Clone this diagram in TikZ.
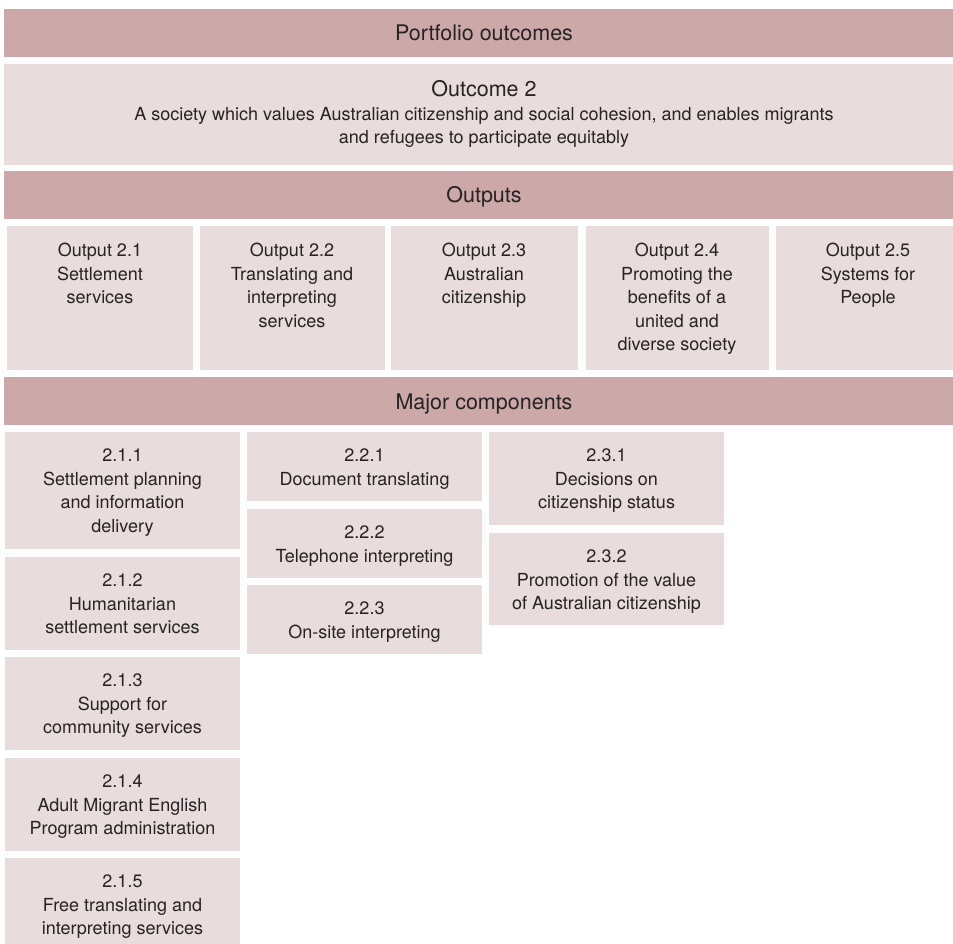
\documentclass[tikz,border=0pt]{standalone}
\usepackage{fontspec}
\setmainfont{TeX Gyre Heros}
\definecolor{darkc}{HTML}{CDA8A8}
\definecolor{lightc}{HTML}{E8DCDC}
\definecolor{txtc}{HTML}{262223}
\begin{document}
\begin{tikzpicture}[x=1pt,y=-1pt,
  hdrbar/.style={fill=darkc,draw=none,inner sep=0pt,anchor=north west,minimum width=949pt,minimum height=48pt},
  lbox/.style={fill=lightc,draw=none,inner sep=0pt,anchor=north west},
  hdrtxt/.style={text=txtc,inner sep=0pt,anchor=base,font=\fontsize{21.5}{25}\selectfont},
  bodytxt/.style={text=txtc,inner sep=0pt,anchor=north,align=center,font=\fontsize{18}{23.5}\selectfont}]
\useasboundingbox (0,0) rectangle (953,944);
\fill[white] (0,0) rectangle (953,944);
% headers
\node[hdrbar] (bar1) at (4,9) {};
\node[hdrtxt] (t1) at (484,41) {Portfolio outcomes};
\node[lbox,minimum width=949pt,minimum height=101pt] (oc) at (4,64) {};
\node[hdrtxt] (oct) at (484,97) {Outcome 2};
\node[bodytxt] (ocd) at (484,107) {A society which values Australian citizenship and social cohesion, and enables migrants\\and refugees to participate equitably};
\node[hdrbar] (bar2) at (4,171) {};
\node[hdrtxt] (t2) at (484,203) {Outputs};
% outputs
\node[lbox,minimum width=186pt,minimum height=144pt] (o1) at (7,226) {};
\node[lbox,minimum width=185pt,minimum height=144pt] (o2) at (200,226) {};
\node[lbox,minimum width=187pt,minimum height=144pt] (o3) at (391,226) {};
\node[lbox,minimum width=183pt,minimum height=144pt] (o4) at (586,226) {};
\node[lbox,minimum width=177pt,minimum height=144pt] (o5) at (776,226) {};
\node[bodytxt] (o1t) at (100,243) {Output 2.1\\Settlement\\services};
\node[bodytxt] (o2t) at (292,243) {Output 2.2\\Translating and\\interpreting\\services};
\node[bodytxt] (o3t) at (484,243) {Output 2.3\\Australian\\citizenship};
\node[bodytxt] (o4t) at (677,243) {Output 2.4\\Promoting the\\benefits of a\\united and\\diverse society};
\node[bodytxt] (o5t) at (868,243) {Output 2.5\\Systems for\\People};
\node[hdrbar] (bar3) at (4,377) {};
\node[hdrtxt] (t3) at (484,409) {Major components};
% column 1
\node[lbox,minimum width=235pt,minimum height=117pt] (c11) at (5,432) {};
\node[lbox,minimum width=235pt,minimum height=93pt] (c12) at (5,557) {};
\node[lbox,minimum width=235pt,minimum height=93pt] (c13) at (5,657) {};
\node[lbox,minimum width=235pt,minimum height=93pt] (c14) at (5,758) {};
\node[lbox,minimum width=235pt,minimum height=86pt] (c15) at (5,858) {};
\node[bodytxt] (c11t) at (122.5,449) {2.1.1\\Settlement planning\\and information\\delivery};
\node[bodytxt] (c12t) at (122.5,574) {2.1.2\\Humanitarian\\settlement services};
\node[bodytxt] (c13t) at (122.5,674) {2.1.3\\Support for\\community services};
\node[bodytxt] (c14t) at (122.5,775) {2.1.4\\Adult Migrant English\\Program administration};
\node[bodytxt] (c15t) at (122.5,875) {2.1.5\\Free translating and\\interpreting services};
% column 2
\node[lbox,minimum width=235pt,minimum height=69pt] (c21) at (247,432) {};
\node[lbox,minimum width=235pt,minimum height=69pt] (c22) at (247,509) {};
\node[lbox,minimum width=235pt,minimum height=69pt] (c23) at (247,585) {};
\node[bodytxt] (c21t) at (364.5,449) {2.2.1\\Document translating};
\node[bodytxt] (c22t) at (364.5,526) {2.2.2\\Telephone interpreting};
\node[bodytxt] (c23t) at (364.5,602) {2.2.3\\On-site interpreting};
% column 3
\node[lbox,minimum width=235pt,minimum height=93pt] (c31) at (489,432) {};
\node[lbox,minimum width=235pt,minimum height=92pt] (c32) at (489,533) {};
\node[bodytxt] (c31t) at (606.5,449) {2.3.1\\Decisions on\\citizenship status};
\node[bodytxt] (c32t) at (606.5,550) {2.3.2\\Promotion of the value\\of Australian citizenship};
\end{tikzpicture}
\end{document}
